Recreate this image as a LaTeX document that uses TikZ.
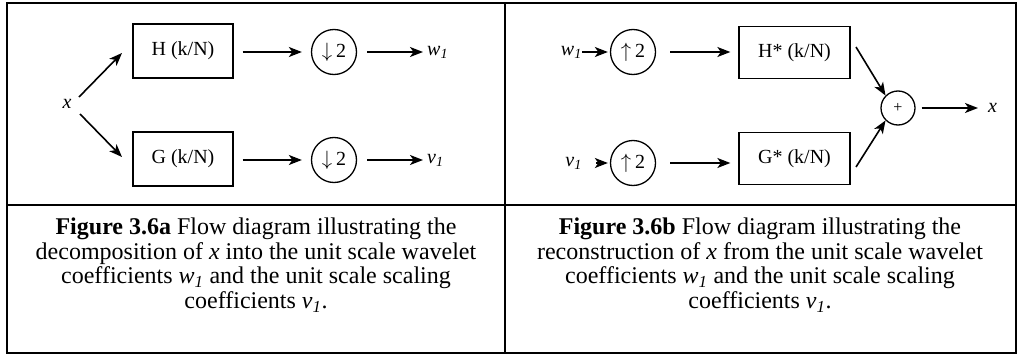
\documentclass[tikz,border=0pt]{standalone}
\usepackage{fontspec}
\setmainfont{Liberation Serif}
\usetikzlibrary{arrows.meta}
\tikzset{
  blk/.style={draw, line width=1.3pt, minimum width=100pt, minimum height=54pt, inner sep=0pt, font=\fontsize{20}{22}\selectfont},
  sbox/.style={blk, minimum width=111pt, minimum height=52pt},
  rs/.style={draw, circle, line width=1.3pt, minimum size=45pt, inner sep=0pt, font=\fontsize{20}{22}\selectfont},
  sumc/.style={draw, circle, line width=1.3pt, minimum size=34pt, inner sep=0pt, font=\fontsize{16}{18}\selectfont},
  lbl/.style={inner sep=0pt, font=\fontsize{20}{22}\selectfont},
  captxt/.style={inner sep=0pt, align=center, anchor=north, font=\fontsize{24}{24.5}\selectfont},
  arr/.style={line width=1.6pt, -{Stealth[length=13pt, width=10pt, inset=3.5pt]}},
  frame/.style={line width=2.2pt},
  divider/.style={line width=1.4pt}
}
\newcommand{\sub}[2]{\textit{#1}\textsubscript{\textit{#2}}}
\begin{document}
\begin{tikzpicture}[x=1pt,y=1pt]
\useasboundingbox (0,0) rectangle (1018,-356);
% frame
\draw[frame] (7,-3) rectangle (1016,-353);
\draw[divider] (505,-3) -- (505,-353);
\draw[divider] (7,-205) -- (1016,-205);

% ---- left panel ----
\node[lbl] (xin) at (67,-104) {\textit{x}};
\coordinate (xu) at (79,-97);
\coordinate (xl) at (80,-114);
\node[blk] (H) at (183,-51) {H (k/N)};
\node[blk] (G) at (183,-159) {G (k/N)};
\node[rs] (d1) at (334,-52) {$\downarrow$\hspace{4pt}2};
\node[rs] (d2) at (334,-160) {$\downarrow$\hspace{4pt}2};
\node[lbl, anchor=west] (w1) at (427,-52) {\sub{w}{1}};
\node[lbl, anchor=west] (v1) at (427,-160) {\sub{v}{1}};
\coordinate (Hin) at (122,-53);
\coordinate (Gin) at (122,-157);
\draw[arr] (xu) -- (Hin);
\draw[arr] (xl) -- (Gin);
\draw[arr] ([xshift=9pt]H.east|-d1) -- ([xshift=-9pt]d1.west);
\draw[arr] ([xshift=9pt]G.east|-d2) -- ([xshift=-9pt]d2.west);
\draw[arr] ([xshift=10pt]d1.east) -- ([xshift=-4pt]w1.west);
\draw[arr] ([xshift=10pt]d2.east) -- ([xshift=-4pt]v1.west);

\node[captxt] (capa) at (256,-218) {\textbf{Figure 3.6a} Flow diagram illustrating the\\
decomposition of \textit{x} into the unit scale wavelet\\
coefficients \sub{w}{1} and the unit scale scaling\\
coefficients \sub{v}{1}.};

% ---- right panel ----
\node[lbl, anchor=east] (w1r) at (582,-52) {\sub{w}{1}};
\node[lbl, anchor=east] (v1r) at (582,-163) {\sub{v}{1}};
\node[rs] (u1) at (633,-52) {$\uparrow$\hspace{4pt}2};
\node[rs] (u2) at (633,-163) {$\uparrow$\hspace{4pt}2};
\node[sbox] (Hs) at (794.5,-52.5) {H* (k/N)};
\node[sbox] (Gs) at (794.5,-158.5) {G* (k/N)};
\node[sumc] (sum) at (898,-108) {+};
\node[lbl, anchor=west] (xout) at (988,-108) {\textit{x}};
\draw[arr] (w1r.east) -- ([xshift=-2pt]u1.west);
\draw[arr] ([xshift=14pt]v1r.east) -- ([xshift=-2pt]u2.west);
\draw[arr] ([xshift=14pt]u1.east) -- ([xshift=-8pt]Hs.west|-u1);
\draw[arr] ([xshift=14pt]u2.east) -- ([xshift=-8pt]Gs.west|-u2);
\coordinate (Hsout) at (856,-47);
\coordinate (Gsout) at (856,-167);
\draw[arr] (Hsout) -- (sum.north west);
\draw[arr] (Gsout) -- (sum.south west);
\draw[arr] ([xshift=6pt]sum.east) -- ([xshift=-10pt]xout.west);

\node[captxt] (capb) at (760,-218) {\textbf{Figure 3.6b} Flow diagram illustrating the\\
reconstruction of \textit{x} from the unit scale wavelet\\
coefficients \sub{w}{1} and the unit scale scaling\\
coefficients \sub{v}{1}.};
\end{tikzpicture}
\end{document}
